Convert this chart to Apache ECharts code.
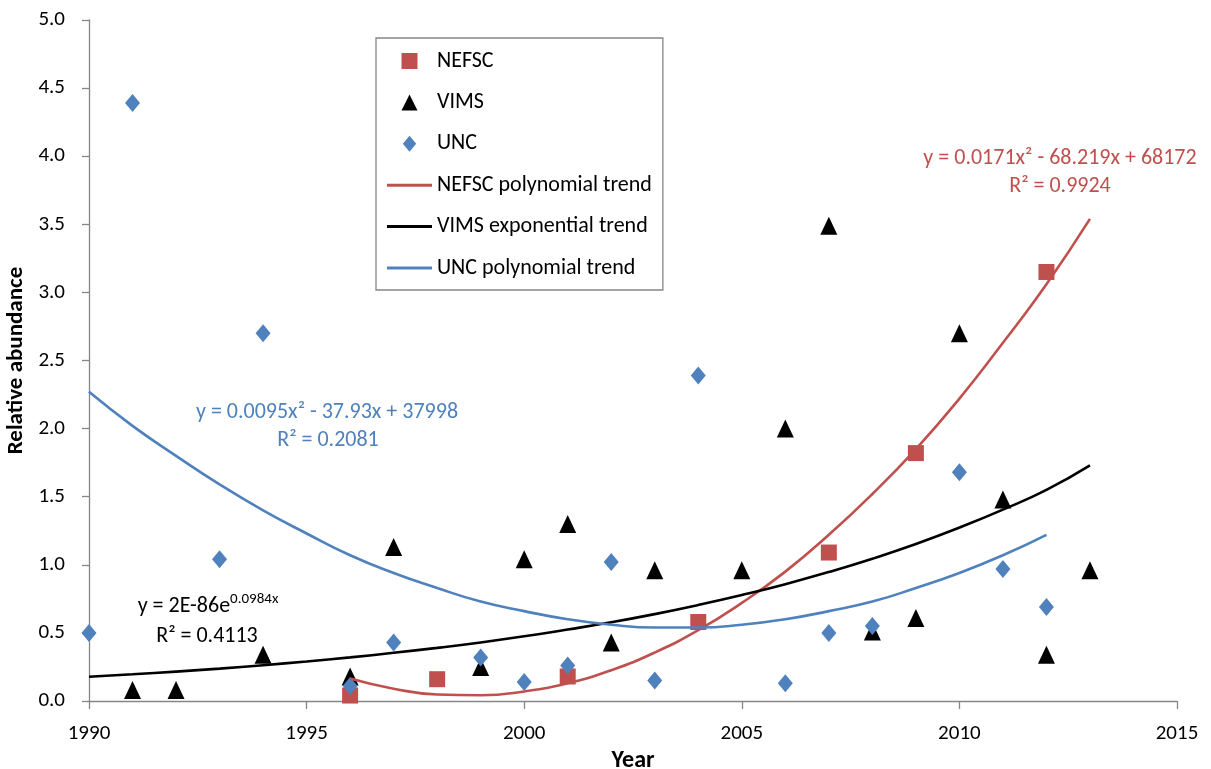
<!DOCTYPE html>
<html>
<head>
<meta charset="utf-8">
<script src="https://cdn.jsdelivr.net/npm/echarts@6/dist/echarts.min.js"></script>
<style>
html, body { margin: 0; padding: 0; background: #fff; }
#chart { width: 1211px; height: 769px; }
</style>
</head>
<body>
<div id="chart"></div>
<script>
// survey points
var nefscYears = [1996, 1998, 2001, 2004, 2007, 2009, 2012];
var nefscValues = [0.04, 0.16, 0.18, 0.58, 1.09, 1.82, 3.15];

var vimsYears = [1991, 1992, 1994, 1996, 1997, 1999, 2000, 2001, 2002, 2003, 2005, 2006, 2007, 2008, 2009, 2010, 2011, 2012, 2013];
var vimsValues = [0.08, 0.08, 0.34, 0.18, 1.13, 0.25, 1.04, 1.30, 0.43, 0.96, 0.96, 2.00, 3.49, 0.51, 0.61, 2.70, 1.48, 0.34, 0.96];

var uncYears = [1990, 1991, 1993, 1994, 1996, 1997, 1999, 2000, 2001, 2002, 2003, 2004, 2006, 2007, 2008, 2010, 2011, 2012];
var uncValues = [0.50, 4.39, 1.04, 2.70, 0.11, 0.43, 0.32, 0.14, 0.26, 1.02, 0.15, 2.39, 0.13, 0.50, 0.55, 1.68, 0.97, 0.69];

// trend curves, read at each year
var nefscTrendYears = [1996, 1997, 1998, 1999, 2000, 2001, 2002, 2003, 2004, 2005, 2006, 2007, 2008, 2009, 2010, 2011, 2012, 2013];
var nefscTrendValues = [0.165, 0.09, 0.048, 0.042, 0.07, 0.13, 0.226, 0.356, 0.52, 0.72, 0.95, 1.22, 1.52, 1.85, 2.22, 2.63, 3.06, 3.54];

var vimsTrendYears = [1990, 1991, 1992, 1993, 1994, 1995, 1996, 1997, 1998, 1999, 2000, 2001, 2002, 2003, 2004, 2005, 2006, 2007, 2008, 2009, 2010, 2011, 2012, 2013];
var vimsTrendValues = [0.178, 0.196, 0.216, 0.238, 0.263, 0.29, 0.32, 0.354, 0.39, 0.43, 0.475, 0.525, 0.578, 0.638, 0.705, 0.778, 0.858, 0.947, 1.045, 1.153, 1.273, 1.405, 1.55, 1.73];

var uncTrendYears = [1990, 1991, 1992, 1993, 1994, 1995, 1996, 1997, 1998, 1999, 2000, 2001, 2002, 2003, 2004, 2005, 2006, 2007, 2008, 2009, 2010, 2011, 2012];
var uncTrendValues = [2.27, 2.02, 1.80, 1.59, 1.40, 1.23, 1.07, 0.94, 0.83, 0.73, 0.66, 0.60, 0.56, 0.54, 0.54, 0.56, 0.60, 0.66, 0.73, 0.83, 0.94, 1.07, 1.22];

var yearTicks = [1990, 1995, 2000, 2005, 2010, 2015];

function pairs(xs, ys) {
  return xs.map(function (x, i) { return [x, ys[i]]; });
}

var RED = '#C0504D', BLUE = '#4F81BD', AXIS = '#868686';
var FONT = 'Carlito, Lato, sans-serif';

var chart = echarts.init(document.getElementById('chart'));

function note(x, y, text, color) {
  return {
    type: 'text', x: x, y: y,
    style: { text: text, fill: color, font: '22px ' + FONT,
      align: 'center', verticalAlign: 'middle', textAlign: 'center', textVerticalAlign: 'middle' }
  };
}

var option = {
  backgroundColor: '#fff',
  animation: false,
  textStyle: { fontFamily: FONT },
  grid: { left: 89, right: 34, top: 20, bottom: 68, containLabel: false, outerBoundsMode: 'none' },
  xAxis: {
    type: 'value',
    min: yearTicks[0],
    max: yearTicks[yearTicks.length - 1],
    interval: 5,
    name: 'Year',
    nameLocation: 'middle',
    nameGap: 45,
    nameTextStyle: { fontFamily: FONT, fontWeight: 'bold', fontSize: 24, color: '#000' },
    axisLine: { lineStyle: { color: AXIS, width: 1.3 } },
    axisTick: { inside: false, length: 8, lineStyle: { color: AXIS, width: 1.3 } },
    axisLabel: { fontSize: 21, color: '#000', margin: 22,
      formatter: function (v) { return String(v); } },
    splitLine: { show: false }
  },
  yAxis: {
    type: 'value',
    min: 0,
    max: 5,
    interval: 0.5,
    name: 'Relative abundance',
    nameLocation: 'middle',
    nameGap: 60,
    nameTextStyle: { fontFamily: FONT, fontWeight: 'bold', fontSize: 23, color: '#000' },
    axisLine: { show: true, lineStyle: { color: AXIS, width: 1.3 } },
    axisTick: { show: true, length: 7, lineStyle: { color: AXIS, width: 1.3 } },
    axisLabel: {
      fontSize: 21, color: '#000', margin: 24,
      formatter: function (v) { return v.toFixed(1); }
    },
    splitLine: { show: false }
  },
  legend: {
    orient: 'vertical',
    left: 376,
    top: 38,
    padding: [12, 11, 11, 11],
    itemWidth: 45,
    itemHeight: 16,
    itemGap: 19.4,
    borderColor: AXIS,
    borderWidth: 1.3,
    selectedMode: false,
    textStyle: { fontFamily: FONT, fontSize: 22, lineHeight: 22, color: '#000' },
    data: [
      { name: 'NEFSC', icon: 'path://M0,0h10v10h-10z' },
      { name: 'VIMS', icon: 'path://M5,0L10,10L0,10Z' },
      { name: 'UNC', icon: 'path://M5,0L10,6L5,12L0,6Z' },
      { name: 'NEFSC polynomial trend', icon: 'path://M0,0h45v3h-45z' },
      { name: 'VIMS exponential trend', icon: 'path://M0,0h45v3h-45z' },
      { name: 'UNC polynomial trend', icon: 'path://M0,0h45v3h-45z' }
    ]
  },
  series: [
    {
      name: 'NEFSC', type: 'scatter', symbol: 'rect', symbolSize: 16,
      itemStyle: { color: RED, opacity: 1 },
      data: pairs(nefscYears, nefscValues)
    },
    {
      name: 'VIMS', type: 'scatter', symbol: 'triangle', symbolSize: [17, 18],
      itemStyle: { color: '#000', opacity: 1 },
      data: pairs(vimsYears, vimsValues)
    },
    {
      name: 'UNC', type: 'scatter', symbol: 'diamond', symbolSize: [15, 18],
      itemStyle: { color: BLUE, opacity: 1 },
      data: pairs(uncYears, uncValues)
    },
    {
      name: 'NEFSC polynomial trend', type: 'line', symbol: 'none', smooth: true,
      itemStyle: { color: RED },
      lineStyle: { color: RED, width: 2.6 },
      data: pairs(nefscTrendYears, nefscTrendValues)
    },
    {
      name: 'VIMS exponential trend', type: 'line', symbol: 'none', smooth: true,
      itemStyle: { color: '#000' },
      lineStyle: { color: '#000', width: 2.6 },
      data: pairs(vimsTrendYears, vimsTrendValues)
    },
    {
      name: 'UNC polynomial trend', type: 'line', symbol: 'none', smooth: true,
      itemStyle: { color: BLUE },
      lineStyle: { color: BLUE, width: 2.6 },
      data: pairs(uncTrendYears, uncTrendValues)
    }
  ],
  graphic: [
    note(327, 412, 'y = 0.0095x² - 37.93x + 37998', BLUE),
    note(328, 440, 'R² = 0.2081', BLUE),
    {
      type: 'text', x: 208, y: 606,
      style: {
        text: 'y = 2E-86e{sup|0.0984x}', fill: '#000', font: '22px ' + FONT, lineHeight: 28,
        align: 'center', verticalAlign: 'middle', textAlign: 'center', textVerticalAlign: 'middle',
        rich: { sup: { fontSize: 15, fontFamily: FONT, fill: '#000', verticalAlign: 'top', lineHeight: 28 } }
      }
    },
    note(207, 636, 'R² = 0.4113', '#000'),
    note(1060, 158, 'y = 0.0171x² - 68.219x + 68172', RED),
    note(1060, 186, 'R² = 0.9924', RED)
  ]
};

chart.setOption(option);
</script>
</body>
</html>
